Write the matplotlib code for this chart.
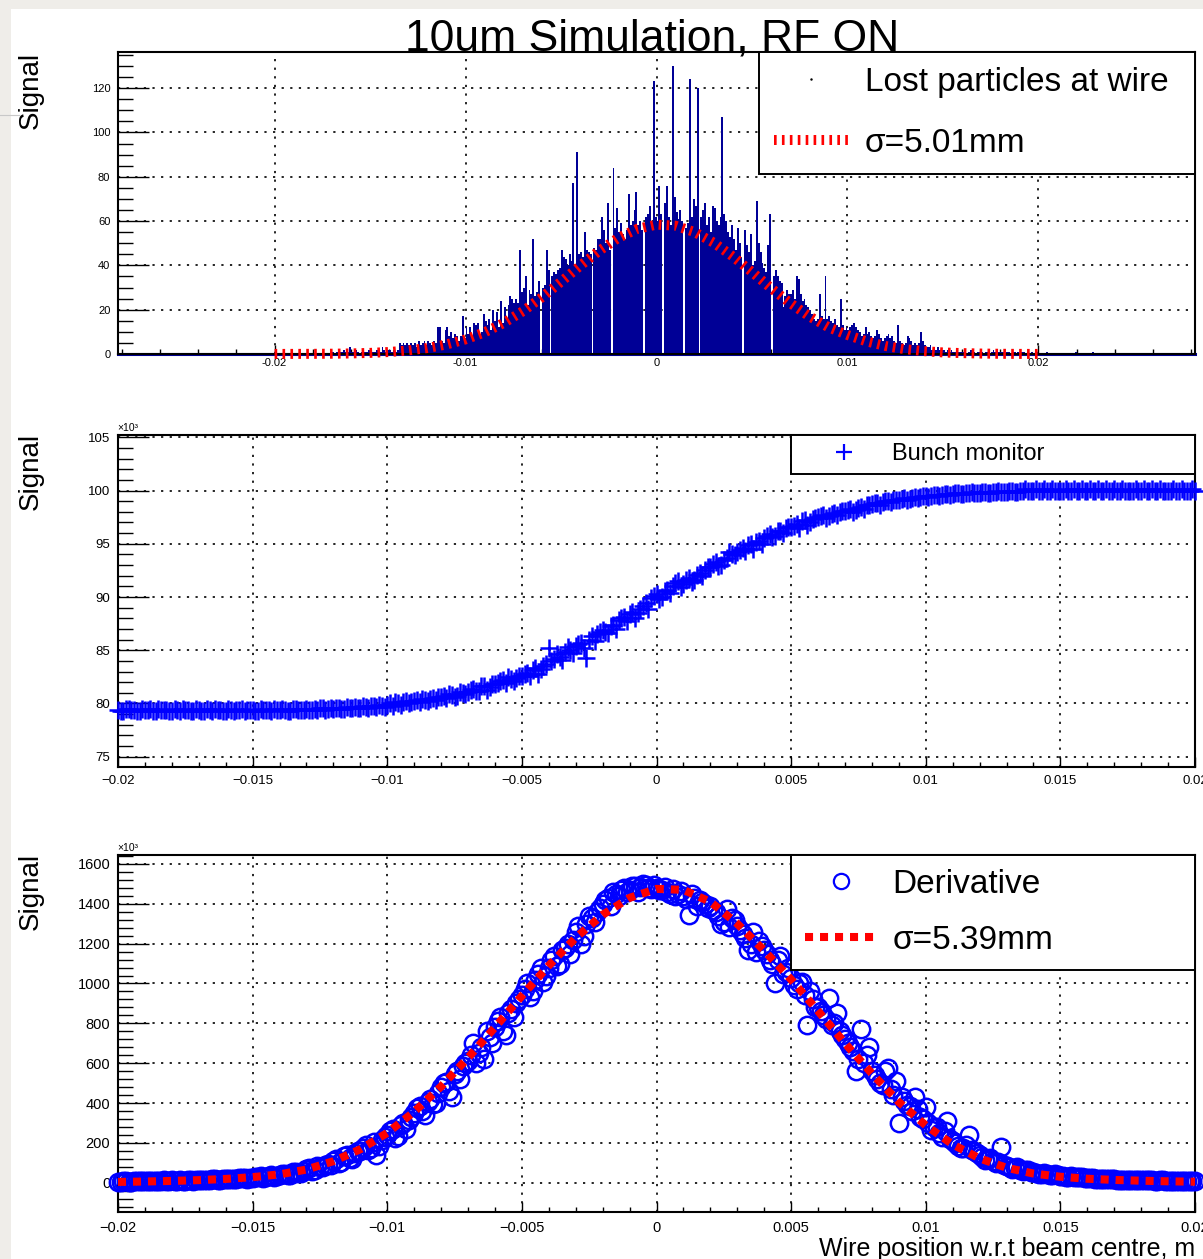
import numpy as np
import matplotlib
matplotlib.use("Agg")
import matplotlib.pyplot as plt
from matplotlib.lines import Line2D
from matplotlib.patches import Rectangle
from matplotlib.ticker import MultipleLocator

plt.rcParams['font.family'] = ['Liberation Sans', 'DejaVu Sans']
plt.rcParams['lines.scale_dashes'] = False

# ---------------- data ----------------
# top: lost particles at wire, bins of 0.1 mm starting at -17 mm
hist_start = -0.0170
hist_step = 0.0001
lost_counts = [
    1, 0, 1, 2, 1, 1, 2, 1, 1, 3,
    1, 1, 2, 1, 0, 1, 2, 1, 1, 2,
    2, 1, 1, 2, 1, 1, 3, 2, 1, 2,
    2, 1, 2, 1, 2, 5, 4, 5, 4, 5,
    4, 5, 4, 5, 3, 6, 4, 5, 6, 4,
    6, 5, 4, 6, 5, 12, 12, 6, 5, 11,
    12, 8, 10, 7, 9, 8, 6, 8, 17, 7,
    12, 9, 12, 8, 14, 13, 14, 9, 10, 18,
    15, 13, 16, 11, 20, 15, 19, 12, 24, 14,
    21, 16, 22, 26, 25, 23, 25, 23, 47, 28,
    30, 35, 22, 29, 27, 52, 26, 28, 33, 0,
    30, 31, 47, 38, 0, 35, 37, 36, 38, 39,
    47, 44, 43, 40, 45, 42, 77, 40, 91, 45,
    46, 44, 55, 47, 46, 45, 0, 48, 47, 52,
    52, 62, 56, 50, 68, 47, 0, 84, 57, 66,
    55, 59, 54, 52, 56, 72, 58, 60, 65, 73,
    58, 60, 56, 0, 62, 63, 67, 60, 123, 62,
    60, 76, 63, 0, 68, 76, 62, 58, 130, 71,
    64, 61, 65, 60, 0, 57, 59, 124, 62, 70,
    67, 120, 0, 62, 65, 68, 58, 62, 55, 67,
    66, 60, 58, 62, 107, 63, 60, 55, 53, 58,
    52, 47, 57, 50, 44, 0, 56, 49, 46, 54,
    40, 42, 69, 50, 46, 41, 39, 37, 49, 63,
    0, 35, 38, 35, 33, 32, 21, 26, 29, 27,
    27, 29, 25, 35, 34, 27, 24, 25, 22, 21,
    20, 18, 16, 15, 16, 27, 17, 16, 35, 16,
    17, 15, 14, 16, 13, 12, 25, 13, 11, 12,
    11, 12, 13, 14, 12, 11, 10, 8, 9, 12,
    9, 10, 8, 7, 8, 11, 9, 7, 6, 7,
    8, 9, 7, 8, 6, 5, 13, 6, 5, 4,
    5, 8, 7, 6, 4, 5, 4, 5, 10, 6,
    4, 3, 3, 4, 2, 3, 2, 3, 2, 2,
    2, 1, 2, 1, 2, 1, 1, 2, 1, 1,
    1, 1, 0, 1, 2, 1, 1, 0, 1, 1,
    1, 0, 1, 1, 0, 1, 2, 1, 0, 1,
    1, 1, 0, 1, 1, 0, 1, 1, 0, 1,
    0, 1, 1, 0, 1, 0, 1, 0, 1, 1,
    0, 0, 0, 0, 1, 0, 0, 0, 0, 0,
    0, 0, 0, 0, 0, 0, 0, 0, 0, 1,
    0, 0, 0, 0, 0, 0, 0, 0, 1, 0,
]

# gaussian fits, sampled every 1 mm from -20 to 20 mm
fit_x = np.linspace(-0.020, 0.020, 41)
fit_lost = [0.03, 0.05, 0.08, 0.13, 0.25, 0.5, 0.9, 1.6, 2.7, 4.3,
            6.6, 9.8, 14.0, 19.3, 25.6, 32.6, 39.8, 46.6, 52.4, 56.5,
            58.4, 57.9, 55.0, 50.2, 44.0, 37.0, 29.7, 23.0, 17.0, 12.1,
            8.6, 5.7, 3.6, 2.2, 1.3, 0.7, 0.4, 0.2, 0.1, 0.05, 0.03]
fit_deriv = [4, 6, 9, 13, 19, 28, 42, 66, 108, 168,
             250, 356, 483, 627, 780, 938, 1090, 1230, 1345, 1430,
             1475, 1470, 1410, 1300, 1165, 1020, 862, 700, 548, 405,
             288, 192, 122, 75, 46, 30, 20, 14, 10, 7, 5]

# wire scan (values x10^3): pass A on the 0.2 mm grid, pass B on the midpoints
scan_x_a = np.linspace(-0.020, 0.020, 201)
scan_x_b = np.linspace(-0.0199, 0.0199, 200)
bunch_a = [
    79.4, 79.3, 79.5, 79.4, 79.3,  79.4, 79.5, 79.3, 79.4, 79.4,
    79.3, 79.4, 79.5, 79.4, 79.3,  79.4, 79.3, 79.4, 79.5, 79.4,
    79.3, 79.4, 79.4, 79.5, 79.4,  79.4, 79.3, 79.4, 79.4, 79.5,
    79.4, 79.4, 79.3, 79.5, 79.4,  79.5, 79.4, 79.4, 79.6, 79.5,
    79.5, 79.6, 79.5, 79.6, 79.7,  79.6, 79.7, 79.8, 79.7, 79.8,
    79.9, 79.8, 80.0, 80.1, 80.0,  80.2, 80.1, 80.3, 80.4, 80.3,
    80.6, 80.5, 80.8, 80.7, 81.0,  81.1, 81.4, 81.2, 81.6, 81.5,
    81.8, 82.1, 81.9, 82.3, 82.4,  82.6, 82.9, 83.1, 82.8, 83.5,
    85.2, 84.2, 84.4, 84.8, 85.0,  85.4, 85.7, 84.3, 86.3, 86.5,
    86.9, 86.6, 87.4, 87.8, 88.1,  88.4, 88.0, 88.9, 89.4, 89.9,
    90.3, 90.0, 90.7, 91.0, 91.5,  91.2, 91.8, 91.6, 92.3, 92.5,
    92.8, 93.3, 93.0, 93.7, 94.0,  94.2, 94.6, 94.9, 94.5, 95.3,
    95.5, 95.9, 95.7, 96.2, 96.5,  96.6, 96.9, 97.1, 96.8, 97.3,
    97.5, 97.7, 97.6, 97.9, 98.0,  98.1, 98.3, 98.2, 98.5, 98.6,
    98.7, 98.8, 98.9, 99.0, 99.1,  99.1, 99.3, 99.2, 99.4, 99.4,
    99.5, 99.5, 99.6, 99.6, 99.7,  99.7, 99.8, 99.7, 99.8, 99.8,
    99.8, 99.9, 99.8, 99.9, 99.9,  99.9, 100.0, 99.9, 100.0, 100.0,
    100.0, 100.0, 100.1, 100.0, 100.0,  100.0, 100.1, 100.0, 100.0, 100.1,
    100.0, 100.0, 100.1, 100.0, 100.0,  100.1, 100.0, 100.0, 100.0, 100.1,
    100.0, 100.0, 100.1, 100.0, 100.0,  100.0, 100.1, 100.0, 100.0, 100.0,
    100.0,
]
bunch_b = [
    79.3, 79.5, 79.4, 79.3, 79.5,  79.4, 79.3, 79.5, 79.4, 79.3,
    79.5, 79.3, 79.4, 79.3, 79.5,  79.3, 79.5, 79.3, 79.4, 79.3,
    79.5, 79.3, 79.4, 79.3, 79.4,  79.3, 79.5, 79.4, 79.3, 79.4,
    79.5, 79.3, 79.5, 79.4, 79.4,  79.4, 79.5, 79.6, 79.4, 79.6,
    79.6, 79.5, 79.7, 79.6, 79.6,  79.8, 79.6, 79.8, 79.9, 79.7,
    80.0, 80.1, 79.9, 80.2, 80.1,  80.3, 80.4, 80.2, 80.5, 80.6,
    80.7, 80.9, 80.6, 81.1, 80.9,  81.3, 81.2, 81.6, 81.3, 81.8,
    81.9, 82.2, 82.5, 82.1, 82.6,  82.8, 82.6, 83.3, 83.2, 83.7,
    84.0, 84.6, 84.1, 85.3, 84.7,  85.6, 85.2, 86.0, 85.9, 86.7,
    86.7, 87.3, 87.0, 88.0, 87.7,  88.6, 88.5, 89.2, 88.9, 90.1,
    89.8, 90.6, 90.4, 91.3, 90.9,  91.6, 91.4, 92.1, 92.0, 92.8,
    93.1, 92.9, 93.5, 94.2, 93.9,  94.4, 94.3, 95.0, 95.2, 95.0,
    95.7, 95.6, 96.2, 96.0, 96.6,  96.7, 96.5, 97.2, 97.0, 97.4,
    97.6, 97.4, 97.8, 97.7, 98.1,  98.2, 98.0, 98.4, 98.3, 98.6,
    98.8, 98.6, 99.0, 98.9, 99.1,  99.2, 99.1, 99.3, 99.3, 99.5,
    99.4, 99.6, 99.5, 99.7, 99.6,  99.8, 99.7, 99.8, 99.9, 99.8,
    99.9, 99.8, 99.9, 100.0, 99.9,  100.0, 99.9, 100.0, 100.1, 100.0,
    100.1, 100.0, 100.0, 100.1, 100.0,  100.0, 100.0, 100.1, 100.0, 100.0,
    100.1, 100.0, 100.0, 100.1, 100.0,  100.0, 100.1, 100.0, 100.0, 100.0,
    100.1, 100.0, 100.0, 100.1, 100.0,  100.0, 100.0, 100.1, 100.0, 100.1,
]
deriv_a = [
    5, 8, 6, 10, 7,  9, 7, 11, 8, 10,
    12, 9, 11, 14, 10,  13, 16, 12, 17, 15,
    18, 21, 17, 24, 20,  26, 30, 25, 35, 31,
    40, 46, 38, 55, 50,  68, 60, 85, 78, 95,
    110, 98, 135, 125, 150,  160, 190, 172, 140, 215,
    240, 270, 232, 300, 315,  350, 385, 340, 420, 400,
    480, 505, 430, 560, 585,  610, 700, 650, 620, 730,
    780, 830, 740, 870, 900,  940, 1000, 960, 1050, 1010,
    1080, 1140, 1100, 1180, 1150,  1260, 1200, 1300, 1330, 1360,
    1400, 1430, 1460, 1440, 1480,  1470, 1490, 1485, 1495, 1475,
    1480, 1470, 1460, 1475, 1450,  1440, 1345, 1430, 1420, 1400,
    1390, 1360, 1300, 1375, 1330,  1290, 1250, 1170, 1260, 1215,
    1170, 1120, 1000, 1140, 1060,  1030, 970, 1010, 790, 920,
    880, 840, 925, 800, 760,  720, 680, 560, 770, 640,
    560, 520, 490, 575, 440,  300, 410, 385, 430, 330,
    380, 265, 280, 230, 310,  210, 185, 175, 240, 160,
    140, 115, 125, 100, 180,  85, 70, 78, 60, 62,
    52, 45, 48, 40, 42,  34, 30, 32, 27, 29,
    24, 22, 20, 21, 19,  17, 16, 15, 16, 14,
    13, 12, 13, 11, 12,  10, 11, 9, 10, 9,
    8,
]
deriv_b = [
    6, 9, 5, 8, 11,  8, 10, 9, 12, 9,
    11, 13, 10, 12, 15,  14, 13, 18, 15, 19,
    20, 19, 23, 22, 26,  28, 32, 29, 37, 34,
    43, 41, 52, 47, 60,  72, 65, 80, 90, 88,
    120, 105, 140, 118, 160,  175, 165, 205, 185, 230,
    260, 225, 290, 270, 330,  375, 360, 405, 395, 450,
    500, 460, 545, 520, 600,  640, 600, 680, 760, 700,
    810, 760, 850, 830, 920,  970, 930, 1020, 1080, 1040,
    1120, 1090, 1170, 1200, 1220,  1290, 1240, 1340, 1310, 1380,
    1420, 1390, 1450, 1470, 1460,  1490, 1460, 1500, 1480, 1495,
    1470, 1485, 1450, 1440, 1465,  1425, 1450, 1390, 1410, 1380,
    1370, 1340, 1310, 1285, 1320,  1270, 1230, 1200, 1160, 1190,
    1150, 1100, 1120, 1050, 1080,  990, 1000, 940, 960, 880,
    860, 820, 790, 850, 740,  700, 660, 620, 600, 680,
    540, 500, 560, 470, 510,  430, 390, 360, 370, 320,
    300, 280, 250, 260, 220,  200, 175, 190, 165, 150,
    130, 120, 110, 105, 90,  80, 75, 66, 64, 56,
    50, 46, 44, 41, 38,  32, 31, 28, 28, 25,
    23, 21, 21, 19, 18,  16, 15, 15, 14, 13,
    12, 13, 11, 12, 11,  10, 9, 10, 8, 9,
]

top_xticks = [-0.02, -0.01, 0.0, 0.01, 0.02]
top_xlabels = ['-0.02', '-0.01', '0', '0.01', '0.02']
top_yticks = [0, 20, 40, 60, 80, 100, 120]
scan_xticks = [-0.02, -0.015, -0.01, -0.005, 0.0, 0.005, 0.01, 0.015, 0.02]
scan_xlabels = ['\u22120.02', '\u22120.015', '\u22120.01', '\u22120.005', '0',
                '0.005', '0.01', '0.015', '0.02']
mid_yticks = [75, 80, 85, 90, 95, 100, 105]
bot_yticks = [0, 200, 400, 600, 800, 1000, 1200, 1400, 1600]

HIST_BLUE = '#000096'
W, H = 1203, 1259

# ---------------- figure ----------------
fig = plt.figure(figsize=(W / 100, H / 100), dpi=100)
fig.patch.set_facecolor('#efede9')
fig.add_artist(Rectangle((11 / W, 0), 1 - 11 / W, 1 - 9 / H, transform=fig.transFigure,
                         facecolor='white', edgecolor='none', zorder=0))
fig.add_artist(Line2D([0, 19 / W], [1 - 115 / H, 1 - 115 / H], transform=fig.transFigure,
                      color='#c8c8c8', lw=0.8))

ax1 = fig.add_axes([118 / W, 1 - 354 / H, 1077 / W, 302 / H])
ax2 = fig.add_axes([118 / W, 1 - 767 / H, 1077 / W, 332 / H])
ax3 = fig.add_axes([118 / W, 1 - 1212 / H, 1077 / W, 357 / H])

grid_style = dict(color='black', linestyle=(0, (1.6, 4.6)), linewidth=1.2)


def root_axes(ax, xminor, yminor, xlen, xpad, fs):
    ax.set_axisbelow(True)
    ax.grid(True, which='major', **grid_style)
    ax.xaxis.set_minor_locator(MultipleLocator(xminor))
    ax.yaxis.set_minor_locator(MultipleLocator(yminor))
    ax.tick_params(which='both', direction='in', top=False, right=False,
                   width=1.0, color='black')
    ax.tick_params(axis='x', which='major', length=xlen, pad=xpad, labelsize=fs)
    ax.tick_params(axis='x', which='minor', length=xlen / 2)
    ax.tick_params(axis='y', which='major', length=22, pad=5.5, labelsize=fs)
    ax.tick_params(axis='y', which='minor', length=11)
    for sp in ax.spines.values():
        sp.set_linewidth(1.5)


# --- top: histogram + fit
edges = hist_start + hist_step * np.arange(len(lost_counts) + 1)
ax1.stairs(lost_counts, edges, fill=True, color=HIST_BLUE, lw=1.0)
ax1.axhline(0, color=HIST_BLUE, lw=2.2, clip_on=False, zorder=2.5)
fit_style1 = dict(color='red', lw=7.2, dashes=(1.9, 3.8), dash_capstyle='butt')
ax1.plot(fit_x, fit_lost, clip_on=False, zorder=3, **fit_style1)
ax1.set_xlim(-0.0282, 0.0282)
ax1.set_ylim(0, 136.3)
ax1.set_xticks(top_xticks, top_xlabels)
ax1.set_yticks(top_yticks)
root_axes(ax1, 0.002, 5, 6.5, 2.6, 8)

h_lost = Line2D([], [], ls='none', marker='.', ms=1.5, color='black')
h_fit1 = Line2D([], [], **fit_style1)
x0 = (759 - 118) / 1077
leg = ax1.legend([h_lost, h_fit1], ['Lost particles at wire', '\u03c3=5.01mm'],
                 loc='upper left', bbox_to_anchor=(x0, 0, 1 - x0, 1), mode='expand',
                 borderaxespad=0, fontsize=24, handlelength=2.22, handletextpad=0.5,
                 borderpad=0.45, labelspacing=0.9, fancybox=False, edgecolor='black',
                 framealpha=1, numpoints=1)
leg.get_frame().set_linewidth(1.4)

# --- middle: bunch monitor
plus_style = dict(ls='none', marker='+', ms=13, mew=1.8, color='#0000ff')
ax2.plot(scan_x_a, bunch_a, clip_on=False, zorder=3, **plus_style)
ax2.plot(scan_x_b, bunch_b, clip_on=False, zorder=3, **plus_style)
ax2.set_xlim(-0.02, 0.02)
ax2.set_ylim(74.03, 105.22)
ax2.set_xticks(scan_xticks, scan_xlabels)
ax2.set_yticks(mid_yticks)
root_axes(ax2, 0.001, 1, 7.2, 6.0, 9.5)
x0 = (791 - 118) / 1077
leg = ax2.legend([Line2D([], [], ls='none', marker='+', ms=12, mew=1.6, color='#0000ff')],
                 ['Bunch monitor'], loc='upper left',
                 bbox_to_anchor=(x0, 0, 1 - x0, 1), mode='expand', borderaxespad=0,
                 fontsize=17, handlelength=3.76, handletextpad=0.14, borderpad=0.36,
                 fancybox=False, edgecolor='black', framealpha=1, numpoints=1)
leg.get_frame().set_linewidth(1.4)

# --- bottom: derivative + fit
circ_style = dict(ls='none', marker='o', ms=12.5, mfc='none', mec='#0000ff', mew=1.8)
ax3.plot(scan_x_a, deriv_a, clip_on=False, zorder=3, **circ_style)
ax3.plot(scan_x_b, deriv_b, clip_on=False, zorder=3, **circ_style)
fit_style2 = dict(color='red', lw=5.8, dashes=(5.8, 5.0), dash_capstyle='butt')
ax3.plot(fit_x, fit_deriv, zorder=4, clip_on=False, **fit_style2)
ax3.set_xlim(-0.02, 0.02)
ax3.set_ylim(-147, 1645)
ax3.set_xticks(scan_xticks, scan_xlabels)
ax3.set_yticks(bot_yticks)
root_axes(ax3, 0.001, 40, 7.5, 6.3, 10.5)
h_fit2 = Line2D([], [], **fit_style2)
h_der = Line2D([], [], ls='none', marker='o', ms=11, mfc='none', mec='#0000ff', mew=1.6)
leg = ax3.legend([h_der, h_fit2], ['Derivative', '\u03c3=5.39mm'],
                 loc='upper left', bbox_to_anchor=(x0, 0, 1 - x0, 1), mode='expand',
                 borderaxespad=0, fontsize=24, handlelength=2.13, handletextpad=0.5,
                 borderpad=0.42, labelspacing=0.75, fancybox=False, edgecolor='black',
                 framealpha=1, numpoints=1)
leg.get_frame().set_linewidth(1.4)

# --- texts
fig.text(652 / W, 1 - 50 / H, '10um Simulation, RF ON', ha='center', va='baseline',
         fontsize=32)
for y_top in (52, 433, 853):
    fig.text(31 / W, 1 - y_top / H, 'Signal', rotation=90, ha='center', va='top',
             fontsize=20)
for y_base in (431, 851):
    fig.text(117 / W, 1 - y_base / H, '\u00d710\u00b3', ha='left', va='baseline',
             fontsize=7.5)
fig.text(1195 / W, 1 - 1256 / H, 'Wire position w.r.t beam centre, m', ha='right',
         va='baseline', fontsize=18)

fig.savefig('out.png', dpi=100, facecolor=fig.get_facecolor())
